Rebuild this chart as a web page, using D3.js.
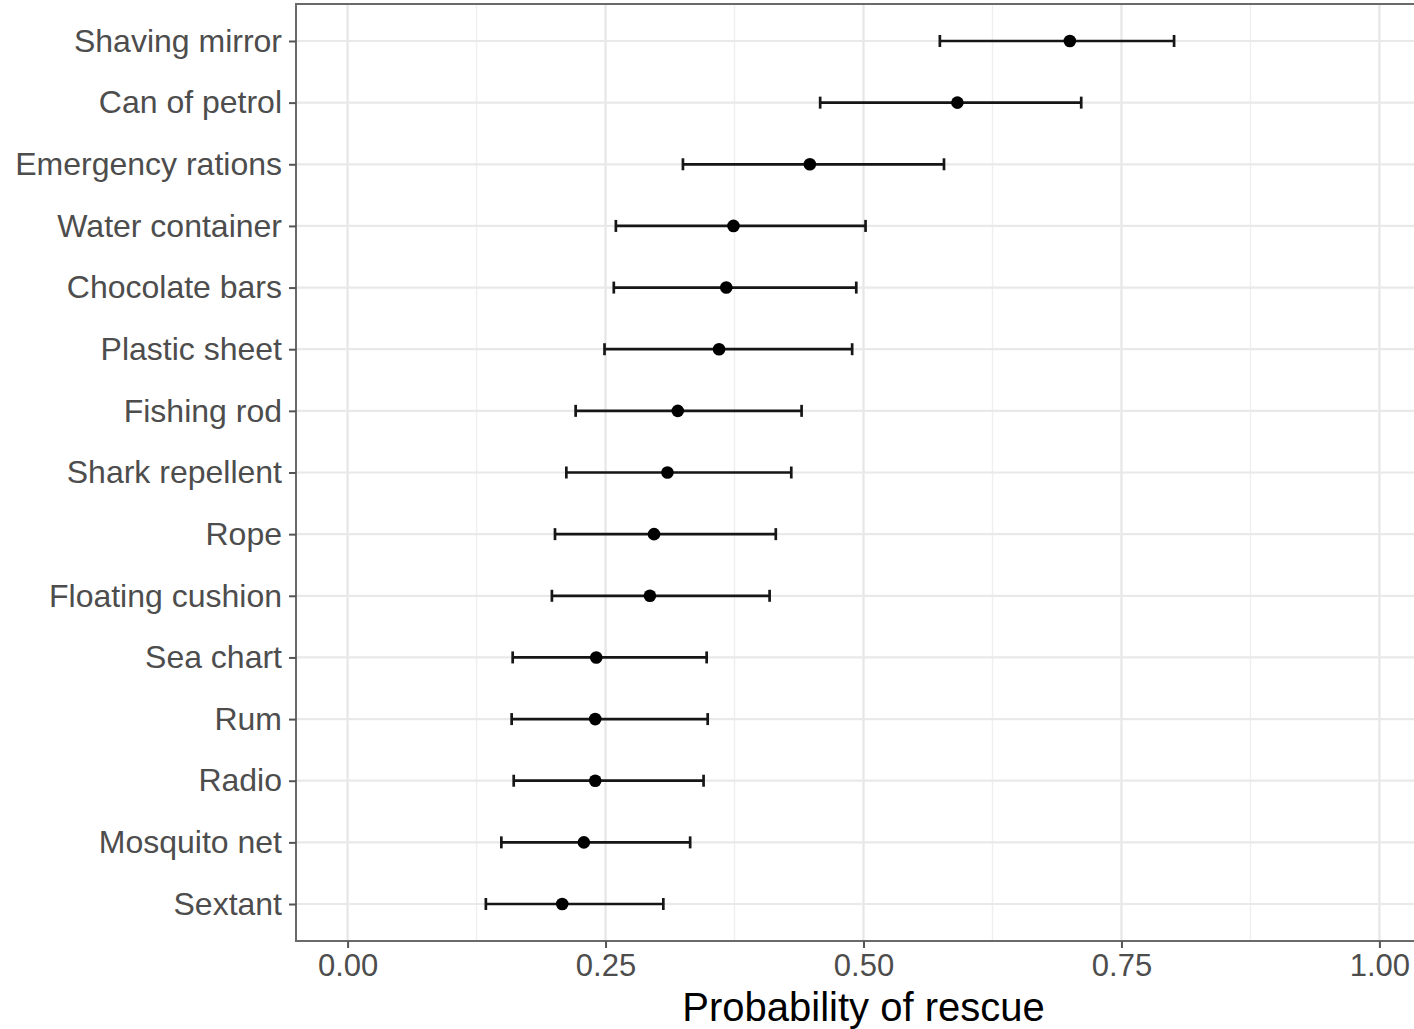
<!DOCTYPE html>
<html>
<head>
<meta charset="utf-8">
<script src="https://cdn.jsdelivr.net/npm/d3@7"></script>
<style>
  body { margin: 0; background: #fff; }
  svg { display: block; font-family: "Liberation Sans", Arial, sans-serif; }
</style>
</head>
<body>
<div id="chart"></div>
<script>
// Items, top to bottom
var items = ["Shaving mirror", "Can of petrol", "Emergency rations", "Water container",
  "Chocolate bars", "Plastic sheet", "Fishing rod", "Shark repellent", "Rope",
  "Floating cushion", "Sea chart", "Rum", "Radio", "Mosquito net", "Sextant"];

// Estimated probability of rescue and interval ends
var estimate = [0.700, 0.591, 0.448, 0.374, 0.367, 0.360, 0.320, 0.310, 0.297, 0.293, 0.241, 0.240, 0.240, 0.229, 0.208];
var lower    = [0.574, 0.458, 0.325, 0.260, 0.258, 0.249, 0.221, 0.212, 0.201, 0.198, 0.160, 0.159, 0.161, 0.149, 0.134];
var upper    = [0.801, 0.711, 0.578, 0.502, 0.493, 0.489, 0.440, 0.430, 0.415, 0.409, 0.348, 0.349, 0.345, 0.332, 0.306];

var xTicks = [0, 0.25, 0.5, 0.75, 1];
var xMinor = [0.125, 0.375, 0.625, 0.875];

var svgWidth = 1414;
var svgHeight = 1029;

var panel = { left: 296, top: 4, bottom: 941, right: 1431 };

var svg = d3.select("#chart")
  .append("svg")
  .attr("width", svgWidth)
  .attr("height", svgHeight);

var data = items.map(function(d, i) {
  return { item: d, est: estimate[i], lo: lower[i], hi: upper[i] };
});

var xScale = d3.scaleLinear()
  .domain([-0.05, 1.05])
  .range([panel.left, panel.right]);

var yScale = d3.scalePoint()
  .domain(items)
  .range([panel.top, panel.bottom])
  .padding(0.6);

// grid lines
var grid = svg.append("g");
grid.selectAll(".minor")
  .data(xMinor)
  .enter()
  .append("line")
  .attr("x1", d => xScale(d)).attr("x2", d => xScale(d))
  .attr("y1", panel.top).attr("y2", panel.bottom)
  .attr("stroke", "#efefef")
  .attr("stroke-width", 1.4);

grid.selectAll(".major")
  .data(xTicks)
  .enter()
  .append("line")
  .attr("x1", d => xScale(d)).attr("x2", d => xScale(d))
  .attr("y1", panel.top).attr("y2", panel.bottom)
  .attr("stroke", "#e6e6e6")
  .attr("stroke-width", 2.2);

grid.selectAll(".hmajor")
  .data(items)
  .enter()
  .append("line")
  .attr("x1", panel.left).attr("x2", panel.right)
  .attr("y1", d => yScale(d)).attr("y2", d => yScale(d))
  .attr("stroke", "#e9e9e9")
  .attr("stroke-width", 2.2);

// error bars
var bars = svg.append("g")
  .selectAll("g")
  .data(data)
  .enter()
  .append("g")
  .attr("stroke", "#161616")
  .attr("stroke-width", 2.7);

bars.append("line")
  .attr("x1", d => xScale(d.lo)).attr("x2", d => xScale(d.hi))
  .attr("y1", d => yScale(d.item)).attr("y2", d => yScale(d.item));

bars.append("line")
  .attr("x1", d => xScale(d.lo)).attr("x2", d => xScale(d.lo))
  .attr("y1", d => yScale(d.item) - 6).attr("y2", d => yScale(d.item) + 6);

bars.append("line")
  .attr("x1", d => xScale(d.hi)).attr("x2", d => xScale(d.hi))
  .attr("y1", d => yScale(d.item) - 6).attr("y2", d => yScale(d.item) + 6);

svg.append("g")
  .selectAll("circle")
  .data(data)
  .enter()
  .append("circle")
  .attr("cx", d => xScale(d.est))
  .attr("cy", d => yScale(d.item))
  .attr("r", 6.3)
  .attr("fill", "#000");

// panel border
svg.append("rect")
  .attr("x", panel.left)
  .attr("y", panel.top)
  .attr("width", panel.right - panel.left)
  .attr("height", panel.bottom - panel.top)
  .attr("fill", "none")
  .attr("stroke", "#6a6a6a")
  .attr("stroke-width", 2);

// axes
var leftAxis = d3.axisLeft(yScale).tickSize(7).tickPadding(7);
var bottomAxis = d3.axisBottom(xScale)
  .tickValues(xTicks)
  .tickFormat(d3.format(".2f"))
  .tickSize(7)
  .tickPadding(6);

var yAxisG = svg.append("g")
  .attr("transform", `translate(${panel.left}, 0)`)
  .call(leftAxis);

var xAxisG = svg.append("g")
  .attr("transform", `translate(0, ${panel.bottom})`)
  .call(bottomAxis);

[yAxisG, xAxisG].forEach(function(g) {
  g.select(".domain").remove();
  g.selectAll(".tick line").attr("stroke", "#555").attr("stroke-width", 2);
  g.selectAll(".tick text")
    .attr("fill", "#4d4d4d")
    .style("font-family", "'Liberation Sans', Arial, sans-serif");
});
yAxisG.selectAll(".tick text").style("font-size", "32px");
xAxisG.selectAll(".tick text").style("font-size", "31px");

svg.append("text")
  .attr("x", xScale(0.5))
  .attr("y", 1021)
  .attr("text-anchor", "middle")
  .style("font-size", "40px")
  .attr("fill", "#000")
  .text("Probability of rescue");
</script>
</body>
</html>
